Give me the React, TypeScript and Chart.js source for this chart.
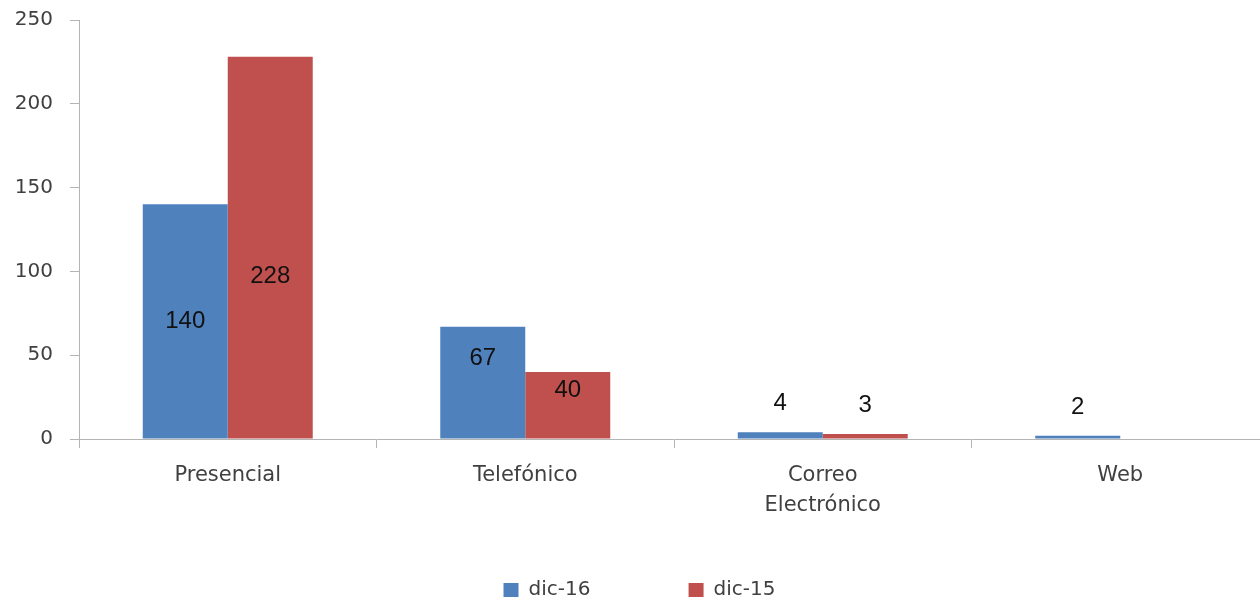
import React, { useEffect, useRef } from "react";
import { Chart, registerables } from "chart.js";

Chart.register(...registerables);

const categories: (string | string[])[] = ["Presencial", "Telefónico", ["Correo", "Electrónico"], "Web"];
const seriesNames = ["dic-16", "dic-15"];
const dic16: (number | null)[] = [140, 67, 4, 2];
const dic15: (number | null)[] = [228, 40, 3, null];
const seriesColors = ["#4F81BD", "#C0504D"];

const Y_MIN = 0;
const Y_MAX = 250;
const Y_STEP = 50;

const AXIS_COLOR = "#b4b4b4";
const TEXT_COLOR = "#404040";
const FONT = "'DejaVu Sans', sans-serif";

// where the value label sits, in data units
function labelAnchor(v: number): number {
  if (v < 10) return v + 17;
  if (v < 100) return v * 0.72;
  return Math.min(v / 2, 97);
}

const barLabels = {
  id: "barLabels",
  afterDatasetsDraw(chart: any) {
    const ctx = chart.ctx;
    const yScale = chart.scales.y;
    ctx.save();
    ctx.font = "24px 'Liberation Sans', Arial, sans-serif";
    ctx.fillStyle = "#111";
    ctx.textAlign = "center";
    ctx.textBaseline = "middle";
    chart.data.datasets.forEach((ds: any, di: number) => {
      const meta = chart.getDatasetMeta(di);
      meta.data.forEach((bar: any, i: number) => {
        const v = ds.data[i];
        if (v == null) return;
        ctx.fillText(String(v), bar.x, yScale.getPixelForValue(labelAnchor(v)));
      });
    });
    ctx.restore();
  },
};

export default function App() {
  const ref = useRef<HTMLCanvasElement | null>(null);

  useEffect(() => {
    if (!ref.current) return;
    const chart = new Chart(ref.current, {
      type: "bar",
      data: {
        labels: categories as any,
        datasets: [
          { label: seriesNames[0], data: dic16, backgroundColor: seriesColors[0], borderWidth: 0 },
          { label: seriesNames[1], data: dic15, backgroundColor: seriesColors[1], borderWidth: 0 },
        ],
      },
      options: {
        animation: false,
        responsive: true,
        maintainAspectRatio: false,
        datasets: { bar: { barPercentage: 1, categoryPercentage: 0.5714 } },
        layout: { padding: { top: 20, right: 1, bottom: -8, left: 10 } },
        plugins: {
          tooltip: { enabled: false },
          legend: {
            position: "bottom",
            labels: {
              boxWidth: 15,
              boxHeight: 14,
              padding: 60,
              color: TEXT_COLOR,
              font: { family: FONT, size: 20 },
              generateLabels: (chart: any) => {
                const items = Chart.defaults.plugins.legend.labels.generateLabels(chart);
                // widen the gap after the first entry
                if (items.length > 1) items[0].text = items[0].text + "      ";
                return items;
              },
            },
          },
        },
        scales: {
          x: {
            grid: { display: true, drawOnChartArea: false, offset: true, tickLength: 9, color: AXIS_COLOR },
            border: { color: AXIS_COLOR, width: 1 },
            ticks: {
              color: TEXT_COLOR,
              font: { family: FONT, size: 21, lineHeight: 1.45 },
              padding: 12,
              maxRotation: 0,
              autoSkip: false,
            },
            afterFit: (s: any) => {
              s.height = 81;
            },
          },
          y: {
            min: Y_MIN,
            max: Y_MAX,
            ticks: {
              stepSize: Y_STEP,
              padding: 17,
              color: TEXT_COLOR,
              font: { family: FONT, size: 20, lineHeight: 0.1 },
            },
            grid: { drawOnChartArea: false, tickLength: 9, color: AXIS_COLOR },
            border: { color: AXIS_COLOR, width: 1 },
            afterFit: (s: any) => {
              s.width = 69;
            },
          },
        },
      },
      plugins: [barLabels],
    });
    return () => chart.destroy();
  }, []);

  return (
    <div style={{ position: "absolute", left: 0, top: 0, width: 1260, height: 602, overflow: "hidden", background: "#fff" }}>
      <div style={{ position: "relative", width: 1270, height: 602 }}>
        <canvas ref={ref} style={{ display: "block" }} />
      </div>
    </div>
  );
}
